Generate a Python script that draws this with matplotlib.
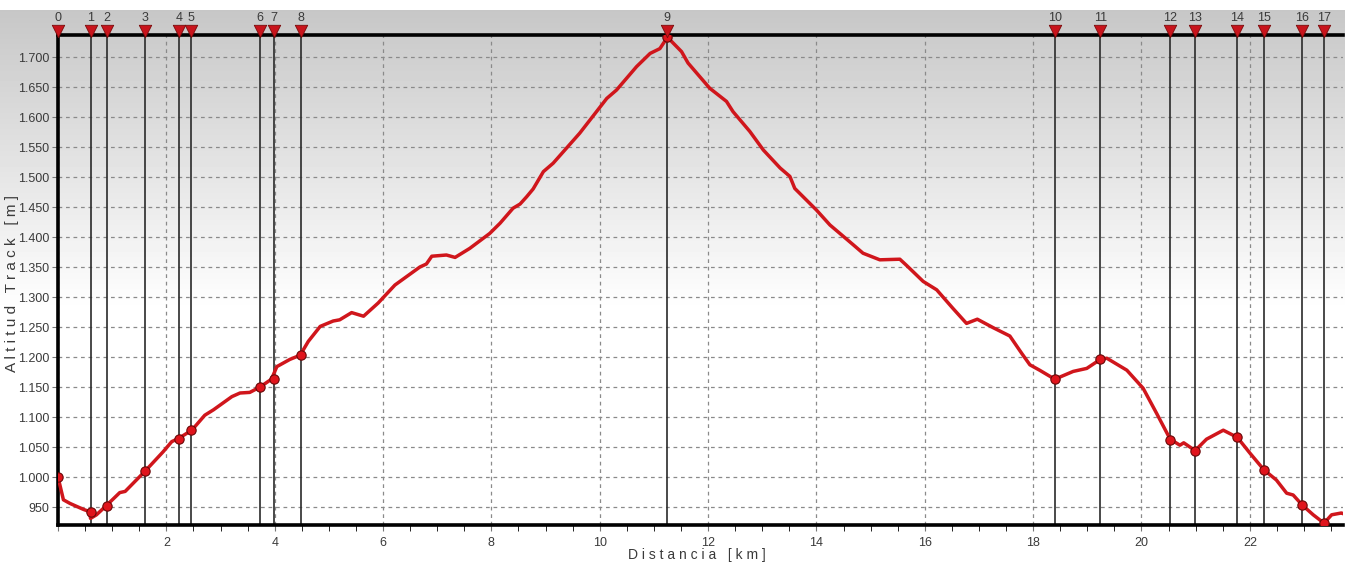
import numpy as np
import matplotlib
matplotlib.use("Agg")
import matplotlib.pyplot as plt
from matplotlib import font_manager
from matplotlib.ticker import FuncFormatter, MultipleLocator

# elevation profile
dist_km = [0, 0.10, 0.22, 0.47, 0.59, 0.60, 0.71, 0.90, 1.14, 1.24, 1.61, 1.94, 2.10, 2.22,
           2.47, 2.71, 2.87, 3.21, 3.36, 3.54, 3.73, 3.94, 4.04, 4.28, 4.47, 4.62, 4.84, 5.08,
           5.20, 5.42, 5.64, 5.91, 6.22, 6.68, 6.80, 6.90, 7.17, 7.33, 7.60, 7.97, 8.16, 8.40,
           8.53, 8.65, 8.77, 8.96, 9.14, 9.63, 10.13, 10.31, 10.68, 10.93, 11.11, 11.25, 11.51,
           11.63, 12.03, 12.34, 12.46, 12.77, 13.02, 13.33, 13.51, 13.60, 14.00, 14.25, 14.68,
           14.86, 15.17, 15.54, 15.66, 15.97, 16.22, 16.52, 16.77, 16.97, 17.26, 17.57, 17.79,
           17.94, 18.12, 18.40, 18.74, 18.99, 19.24, 19.36, 19.73, 20.03, 20.28, 20.53, 20.71,
           20.78, 20.99, 21.20, 21.51, 21.77, 22.00, 22.26, 22.49, 22.68, 22.80, 22.97, 23.17,
           23.37, 23.51, 23.69, 23.72]
alt_m = [1000, 962, 956, 946, 942, 931, 937, 953, 974, 976, 1010, 1042, 1059, 1064,
         1078, 1103, 1112, 1134, 1140, 1141, 1150, 1163, 1184, 1196, 1203, 1226, 1251, 1260,
         1262, 1274, 1268, 1290, 1320, 1350, 1355, 1368, 1370, 1366, 1381, 1406, 1423, 1448,
         1455, 1467, 1480, 1509, 1523, 1573, 1631, 1645, 1684, 1706, 1714, 1733, 1709,
         1690, 1648, 1626, 1609, 1576, 1545, 1515, 1501, 1481, 1445, 1420, 1387,
         1373, 1362, 1363, 1353, 1326, 1312, 1281, 1256, 1263, 1249, 1235, 1206,
         1187, 1178, 1163, 1176, 1181, 1196, 1198, 1178, 1148, 1106, 1063, 1053,
         1057, 1044, 1063, 1078, 1066, 1040, 1012, 995, 973, 970, 953, 937,
         923, 937, 940, 939]

# waypoints
wp_labels = [str(i) for i in range(18)]
wp_km = [0, 0.60, 0.90, 1.61, 2.23, 2.46, 3.73, 3.98, 4.48, 11.24, 18.40, 19.24,
         20.53, 20.99, 21.77, 22.26, 22.97, 23.37]
wp_alt = [1000, 942, 952, 1010, 1063, 1078, 1150, 1163, 1203, 1733, 1163, 1197,
          1062, 1044, 1066, 1012, 953, 923]

W, H = 1345, 562
fig = plt.figure(figsize=(W / 100, H / 100), dpi=100)
plt.rcParams['font.family'] = ['Liberation Sans', 'DejaVu Sans']
installed = {f.name for f in font_manager.fontManager.ttflist}
narrow = 'Liberation Sans Narrow' if 'Liberation Sans Narrow' in installed else 'Liberation Sans'
narrow_size = 10 if narrow == 'Liberation Sans Narrow' else 9

# grey-to-white background gradient behind everything
bg = fig.add_axes([0, 0, 1, 1], zorder=-1)
rows = np.arange(H)
shade = np.where(rows < 10, 1.0, 0.78 + 0.22 * np.clip((rows - 10) / 300, 0, 1))
grad = np.repeat(shade[:, None], 2, axis=1)
bg.imshow(grad, cmap="gray", vmin=0, vmax=1, aspect="auto", extent=[0, 1, 0, 1], origin="upper")
bg.axis("off")

ax = fig.add_axes([58 / W, 37 / H, 1285 / W, 490 / H])
ax.set_facecolor("none")
ax.set_xlim(0, 23.72)
ax.set_ylim(920, 1736.7)

ax.yaxis.set_major_locator(MultipleLocator(50))
ax.xaxis.set_major_locator(MultipleLocator(2))
ax.xaxis.set_minor_locator(MultipleLocator(0.5))
ax.yaxis.set_major_formatter(FuncFormatter(lambda v, p: f"{int(v):,}".replace(",", ".")))
ax.xaxis.set_major_formatter(FuncFormatter(lambda v, p: "" if v == 0 else f"{int(v)}"))
ax.grid(True, which="major", color="#8a8a8a", linestyle=(0, (3, 3)), linewidth=0.9)

ax.tick_params(axis="both", labelcolor="#3a3a3a", color="#777777")
ax.tick_params(axis="x", which="both", length=4, pad=5)
ax.tick_params(axis="y", length=4, pad=2)
for t in ax.get_xticklabels() + ax.get_yticklabels():
    t.set_fontfamily(narrow)
    t.set_fontsize(narrow_size)

for side in ["left", "top", "bottom"]:
    ax.spines[side].set_linewidth(2.6)
    ax.spines[side].set_color("black")
ax.spines["right"].set_visible(False)

# waypoint lines, markers and numbers
for lab, x in zip(wp_labels, wp_km):
    ax.axvline(x, color="#2a2a2a", linewidth=1.2, zorder=2)
    ax.text(x, 1.035, lab, transform=ax.get_xaxis_transform(), ha="center", va="center",
            fontsize=narrow_size, family=narrow, color="#3a3a3a")
ax.scatter(wp_km, [1.008] * len(wp_km), marker="v", s=80, color="#c8141c",
           edgecolor="#7a0a0a", linewidth=0.6, transform=ax.get_xaxis_transform(),
           clip_on=False, zorder=6)

ax.plot(dist_km, alt_m, color="#d0161c", linewidth=2.5, zorder=4, solid_joinstyle="round")
ax.scatter(wp_km, wp_alt, s=45, color="#e0141c", edgecolor="#6a0808", linewidth=0.8, zorder=5)

fig.text(697 / W, 1 - 555 / H, "D i s t a n c i a   [ k m ]", ha="center", va="center",
         fontsize=10, color="#3a3a3a")
fig.text(12 / W, 1 - 283 / H, "A l t i t u d   T r a c k   [ m ]", ha="center", va="center",
         rotation=90, fontsize=11, color="#3a3a3a")

fig.savefig("out.png", dpi=100)
